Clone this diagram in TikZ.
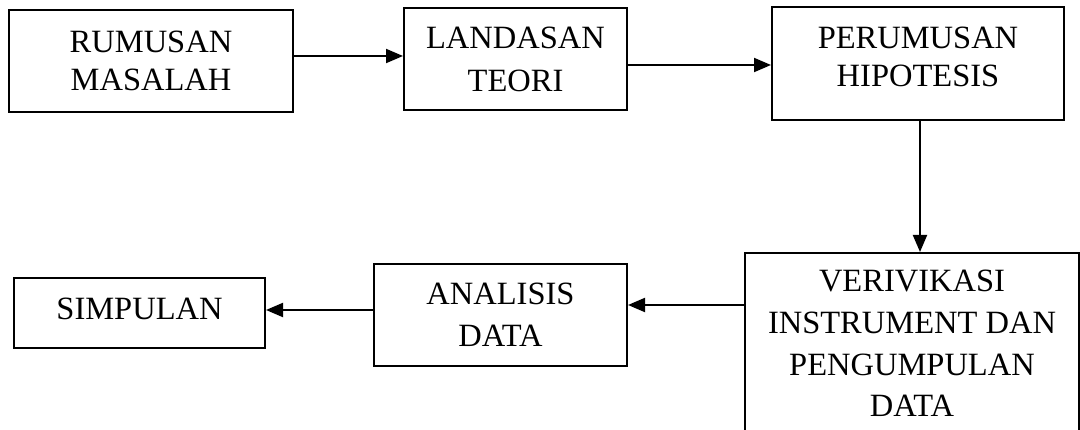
\documentclass[tikz,border=0pt]{standalone}
\usepackage{fontspec}
\setmainfont{Liberation Serif}
\usetikzlibrary{arrows.meta}
\begin{document}
\begin{tikzpicture}[x=1pt,y=1pt,
  box/.style={draw, line width=2pt, anchor=north west, inner sep=0pt, align=center},
  arr/.style={-{Triangle[length=17pt,width=14pt]}, line width=2pt}]
\path[use as bounding box] (0,0) rectangle (1080,-430);
\clip (0,0) rectangle (1080,-430);
\node[box, minimum width=284, minimum height=102, font=\fontsize{32.5}{38}\selectfont] (b1) at (8,-9) {RUMUSAN\\MASALAH};
\node[box, minimum width=223, minimum height=102, font=\fontsize{32.5}{43}\selectfont] (b2) at (403,-7) {LANDASAN\\TEORI};
\node[box, minimum width=292, minimum height=113, text depth=14pt, font=\fontsize{32.5}{38}\selectfont] (b3) at (771,-6) {PERUMUSAN\\HIPOTESIS};
\node[box, minimum width=334, minimum height=185, text depth=4pt, font=\fontsize{32.5}{41.7}\selectfont] (b4) at (744,-252) {VERIVIKASI\\INSTRUMENT DAN\\PENGUMPULAN\\DATA};
\node[box, minimum width=253, minimum height=102, font=\fontsize{32.5}{42}\selectfont] (b5) at (373,-263) {ANALISIS\\DATA};
\node[box, minimum width=251, minimum height=70, text depth=9pt, font=\fontsize{32.5}{38}\selectfont] (b6) at (13,-277) {SIMPULAN};
\draw[arr] (b1.east |- 0,-56) -- (b2.west |- 0,-56);
\draw[arr] (b2.east |- 0,-65) -- (b3.west |- 0,-65);
\draw[arr] (b3.south -| 920,0) -- (b4.north -| 920,0);
\draw[arr] (b4.west |- 0,-305) -- (b5.east |- 0,-305);
\draw[arr] (b5.west |- 0,-310) -- (b6.east |- 0,-310);
\end{tikzpicture}
\end{document}
